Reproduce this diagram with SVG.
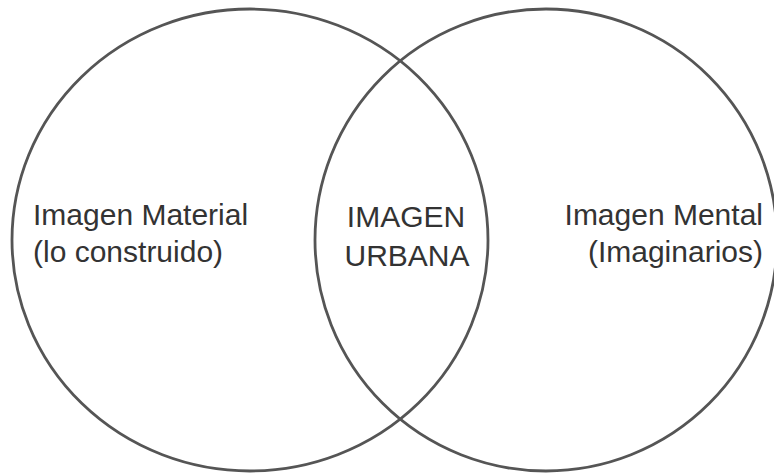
<svg xmlns="http://www.w3.org/2000/svg" width="774" height="474" viewBox="0 0 774 474">
<style>
.c{fill:none;stroke:#555;stroke-width:2.8}
.t{font-family:"Liberation Sans",Arial,sans-serif;font-size:30px;fill:#333}
</style>
<rect width="774" height="474" fill="#fff"/>
<g id="left">
<ellipse class="c" cx="250" cy="240" rx="238" ry="231"/>
<text class="t" x="33" y="225">Imagen Material</text>
<text class="t" x="33" y="262">(lo construido)</text>
</g>
<g id="right">
<circle class="c" cx="546" cy="240" r="231"/>
<text class="t" x="763" y="225" text-anchor="end">Imagen Mental</text>
<text class="t" x="763" y="262" text-anchor="end">(Imaginarios)</text>
</g>
<g id="center">
<text class="t" x="406" y="227" text-anchor="middle">IMAGEN</text>
<text class="t" x="407" y="266" text-anchor="middle">URBANA</text>
</g>
<g id="connectors"/>
</svg>
